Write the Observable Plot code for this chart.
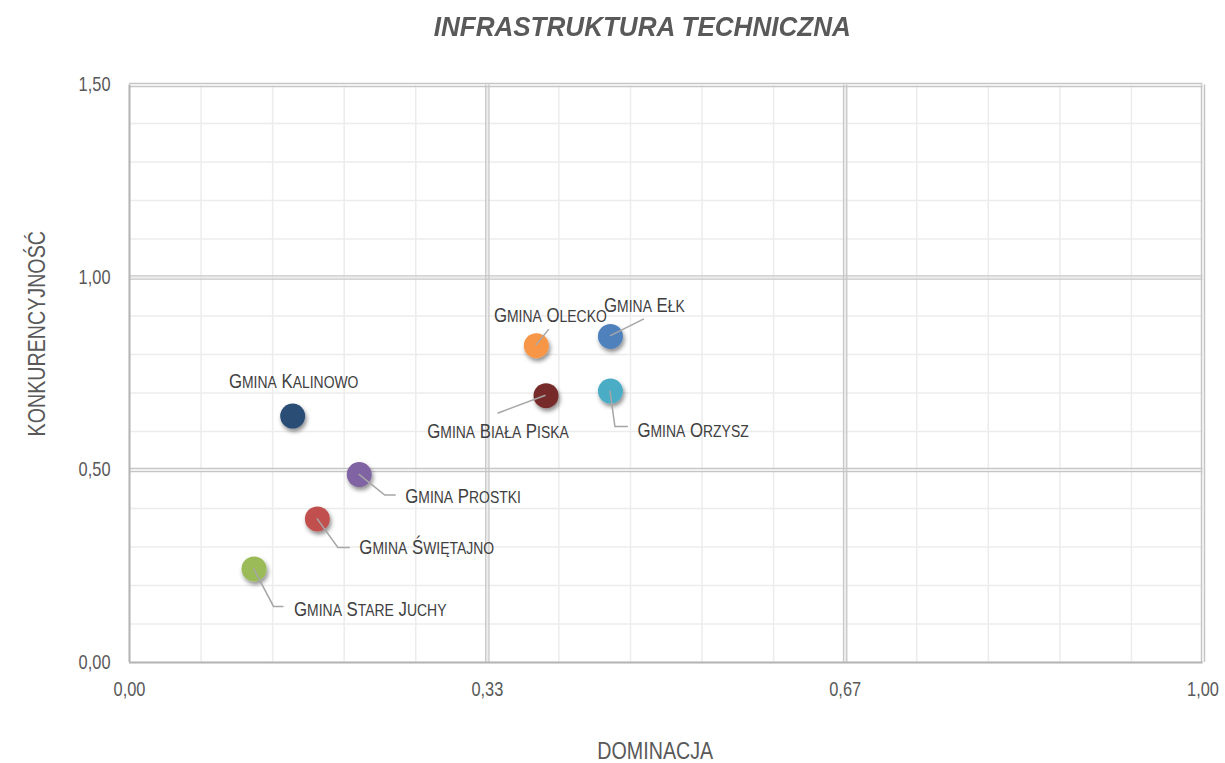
<!DOCTYPE html>
<html><head><meta charset="utf-8">
<script src="https://cdn.jsdelivr.net/npm/d3@7"></script>
<script src="https://cdn.jsdelivr.net/npm/@observablehq/plot@0.6"></script>
<style>
body{margin:0;background:#fff;}
#title{height:50px;width:1225px;text-align:center;font:italic bold 28px "Liberation Sans",Arial,sans-serif;color:#595959;line-height:54px;}
#title span{display:inline-block;margin-left:60px;transform:scaleX(0.93);}
#chart svg{display:block;}
</style></head><body>
<div id="title"><span>INFRASTRUKTURA TECHNICZNA</span></div>
<div id="chart"></div>
<script>
// ---- data ----
const gminy = ["Gmina Kalinowo","Gmina Olecko","Gmina Ełk","Gmina Biała Piska","Gmina Orzysz","Gmina Prostki","Gmina Świętajno","Gmina Stare Juchy"];
const dominacja = [0.152, 0.379, 0.448, 0.388, 0.448, 0.214, 0.175, 0.116];
const konkurencyjnosc = [0.640, 0.823, 0.847, 0.693, 0.705, 0.488, 0.373, 0.243];
const colors = ["#2c4d76","#f79646","#4f81bd","#772c2a","#4bacc6","#8064a2","#c0504d","#9bbb59"];
const xTicks = [0, 1/3, 2/3, 1];
const xTickLabels = ["0,00","0,33","0,67","1,00"];
const yTicks = [0, 0.5, 1, 1.5];
const yTickLabels = ["0,00","0,50","1,00","1,50"];
const xMinor = d3.range(0, 16).map(i => i / 15);
const yMinor = d3.range(0, 16).map(i => i / 10);

// label placement (pixel offsets from dot centre) and leader paths
const labelLayout = [
  {dx: 1,   dy: -35, anchor: "middle", leader: null},
  {dx: 14,  dy: -30, anchor: "middle", leader: [[0,0],[13,-16]]},
  {dx: 34,  dy: -31, anchor: "middle", leader: [[0,0],[34,-17]]},
  {dx: -48, dy: 36,  anchor: "middle", leader: [[0,0],[-48,18]]},
  {dx: 27,  dy: 39,  anchor: "start",  leader: [[0,0],[5,36],[18,36]]},
  {dx: 46,  dy: 22,  anchor: "start",  leader: [[0,0],[26,21],[37,21]]},
  {dx: 42,  dy: 29,  anchor: "start",  leader: [[0,0],[21,29],[33,29]]},
  {dx: 40,  dy: 40,  anchor: "start",  leader: [[0,0],[20,38],[30,38]]}
];

const data = gminy.map((g, i) => ({name: g, x: dominacja[i], y: konkurencyjnosc[i], color: colors[i]}));
const font = "'Liberation Sans',Arial,sans-serif";
const NARROW = 0.82;

const plot = Plot.plot({
  width: 1225, height: 713,
  marginTop: 34.5, marginBottom: 101, marginLeft: 129, marginRight: 22.5,
  x: {domain: [0, 1], axis: null},
  y: {domain: [0, 1.5], axis: null},
  style: {fontFamily: font, background: "#fff", overflow: "visible"},
  marks: [
    Plot.ruleX(xMinor, {stroke: "#ececec", strokeWidth: 1.5}),
    Plot.ruleY(yMinor, {stroke: "#ececec", strokeWidth: 1.5}),
    Plot.ruleX(xTicks.slice(1), {stroke: "#c6c6c6", strokeWidth: 1.3, dx: -1.6}),
    Plot.ruleX(xTicks.slice(1), {stroke: "#c6c6c6", strokeWidth: 1.3, dx: 1.6}),
    Plot.ruleY(yTicks.slice(1), {stroke: "#c6c6c6", strokeWidth: 1.3, dy: -1.6}),
    Plot.ruleY(yTicks.slice(1), {stroke: "#c6c6c6", strokeWidth: 1.3, dy: 1.6}),
    Plot.ruleX([0], {stroke: "#b4b4b4", strokeWidth: 2}),
    Plot.ruleY([0], {stroke: "#b4b4b4", strokeWidth: 2}),
    Plot.text(xTicks, {x: d => d, frameAnchor: "bottom", lineAnchor: "middle", textAnchor: "middle", dy: 27, text: (d, i) => xTickLabels[i], fontSize: 20, fill: "#595959"}),
    Plot.text(yTicks, {y: d => d, frameAnchor: "left", lineAnchor: "middle", textAnchor: "end", dx: -19, text: (d, i) => yTickLabels[i], fontSize: 20, fill: "#595959"}),
    Plot.text(["DOMINACJA"], {frameAnchor: "bottom", lineAnchor: "middle", textAnchor: "middle", dx: -11, dy: 89, text: d => d, fontSize: 24, fill: "#595959"}),
    Plot.text(["KONKURENCYJNOŚĆ"], {frameAnchor: "left", lineAnchor: "middle", textAnchor: "middle", rotate: -90, dx: -92, dy: -40, text: d => d, fontSize: 24, fill: "#595959"}),
    Plot.dot(data, {x: "x", y: "y", r: 12.5, fill: "color", stroke: "none"}),
    ...data.map((d, i) => Plot.text([d], {
      x: "x", y: "y", text: "name", dx: labelLayout[i].dx, dy: labelLayout[i].dy,
      textAnchor: labelLayout[i].anchor, lineAnchor: "middle",
      fontSize: 20.5, fill: "#404040"
    }))
  ]
});

const svg = d3.select(plot);
// drop shadow for dots
svg.insert("defs", ":first-child").html(
  '<filter id="shadow" x="-50%" y="-50%" width="200%" height="200%">' +
  '<feDropShadow dx="1.5" dy="3" stdDeviation="2" flood-color="#000" flood-opacity="0.45"/></filter>');
svg.selectAll("g[aria-label=dot] circle").attr("filter", "url(#shadow)");

// small caps for point labels
const nameSet = new Set(gminy);
svg.selectAll("text").each(function() {
  const t = d3.select(this);
  const s = t.text();
  if (!nameSet.has(s)) return;
  t.text("");
  s.split(" ").forEach((w, k) => {
    t.append("tspan").text((k ? " " : "") + w[0].toUpperCase());
    if (w.length > 1) t.append("tspan").attr("font-size", 17).text(w.slice(1).toUpperCase());
  });
});

// condensed (Arial Narrow-like) text
svg.selectAll("text").each(function() {
  const tr = this.getAttribute("transform") || "";
  this.setAttribute("transform", tr + ` scale(${NARROW},1)`);
});

// leader lines
const sx = plot.scale("x"), sy = plot.scale("y");
const lg = svg.append("g").attr("fill", "none").attr("stroke", "#a6a6a6").attr("stroke-width", 1.5);
data.forEach((d, i) => {
  const L = labelLayout[i].leader;
  if (!L) return;
  const cx = sx.apply(d.x), cy = sy.apply(d.y);
  lg.append("path").attr("d", d3.line()(L.map(([a, b]) => [cx + a, cy + b])));
});
document.getElementById("chart").appendChild(plot);
</script>
</body></html>
